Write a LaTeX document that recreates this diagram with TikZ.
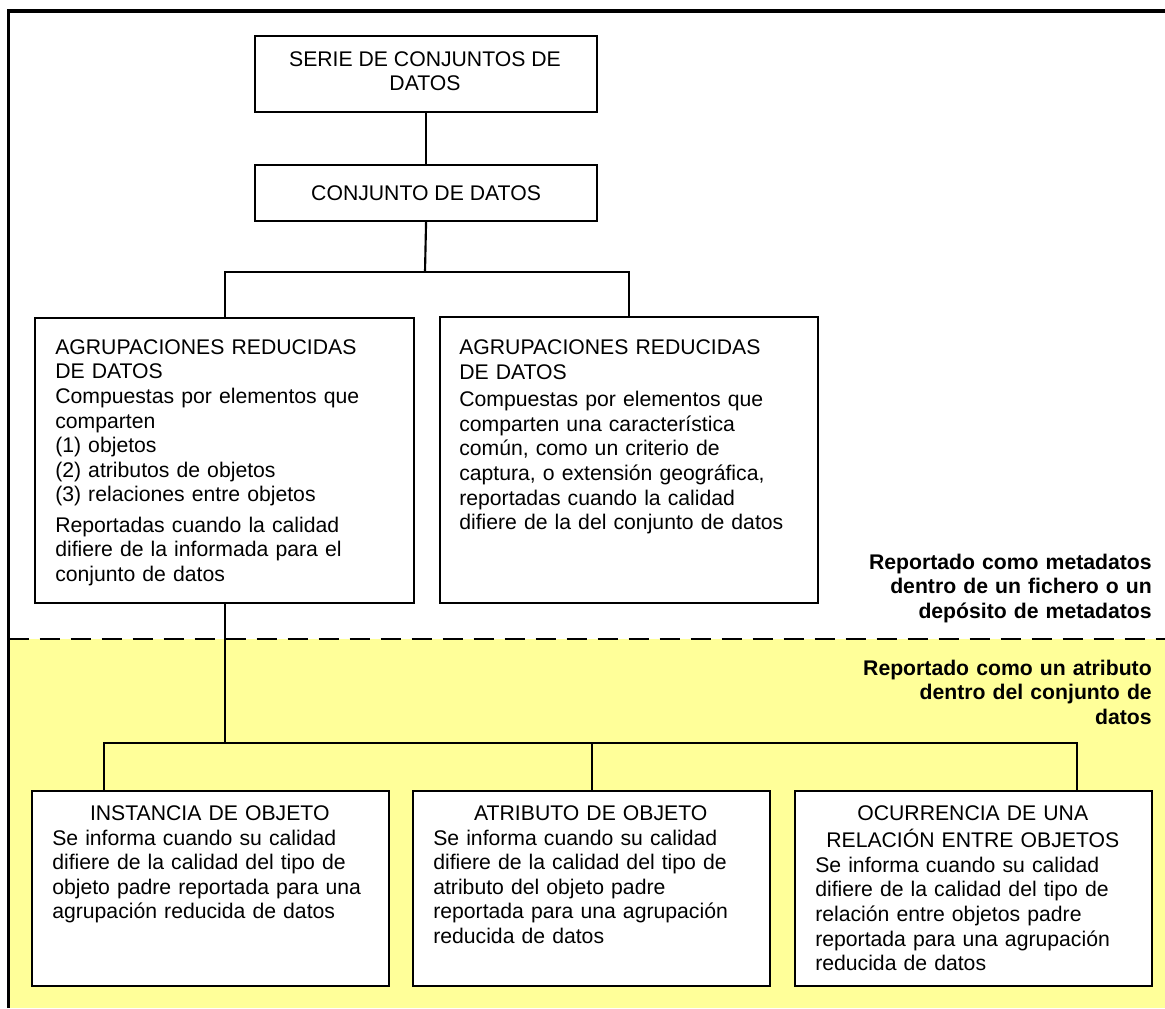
\documentclass[tikz,border=0pt]{standalone}
\usepackage{fontspec}
\setmainfont{Liberation Sans}
\usetikzlibrary{calc}
\definecolor{bgyellow}{RGB}{255,255,153}
\newcommand{\PX}{0.75pt}
\newcommand{\bodyfont}{\fontsize{15.9pt}{18.4pt}\selectfont}
\setlength{\parindent}{0pt}
\begin{document}
\begin{tikzpicture}[x=0.75pt, y=-0.75pt,
  box/.style={draw, line width=1.6pt, fill=white, inner sep=0pt, anchor=north west},
  conn/.style={line width=1.6pt},
  txt/.style={anchor=north west, inner sep=0pt, align=left, font=\bodyfont},
  note/.style={anchor=north east, inner sep=0pt, align=right, text width=300*\PX, font=\bodyfont\bfseries}]
\useasboundingbox (0,0) rectangle (1165,1008);
% background zones
\fill[bgyellow] (8.5,639) rectangle (1165,1008);
\draw[line width=2.2pt, dash pattern=on 15pt off 8.25pt] (8.5,639) -- (1165,639);
\draw[line width=2.4pt] (8.5,1008) -- (8.5,11) -- (1165,11);
% boxes
\node[box, minimum width=342*\PX, minimum height=76*\PX] (b1) at (254,35) {};
\node[box, minimum width=342*\PX, minimum height=56*\PX, font=\bodyfont] (b2) at (254,164) {CONJUNTO DE DATOS};
\node[box, minimum width=379*\PX, minimum height=285*\PX] (b3) at (34,317) {};
\node[box, minimum width=378*\PX, minimum height=286*\PX] (b4) at (439,316) {};
\node[box, minimum width=357*\PX, minimum height=195*\PX] (b5) at (31,790) {};
\node[box, minimum width=357*\PX, minimum height=195*\PX] (b6) at (412,790) {};
\node[box, minimum width=357*\PX, minimum height=195*\PX] (b7) at (794,790) {};
% box texts
\node[anchor=north, inner sep=0pt, align=center, font=\bodyfont] (t1) at (425,49) {\strut SERIE DE CONJUNTOS DE\\DATOS};
\node[txt, text width=350*\PX] (t3) at (55,337) {\strut AGRUPACIONES REDUCIDAS\\
DE DATOS\\
Compuestas por elementos que\\
comparten\\
(1) objetos\\
(2) atributos de objetos\\
(3) relaciones entre objetos\\[4.5pt]
Reportadas cuando la calidad\\
difiere de la informada para el\\
conjunto de datos};
\node[txt, text width=350*\PX] (t4) at (459,337.4) {\strut AGRUPACIONES REDUCIDAS\\
DE DATOS\\[2.25pt]
Compuestas por elementos que\\
comparten una característica\\
común, como un criterio de\\
captura, o extensión geográfica,\\
reportadas cuando la calidad\\
difiere de la del conjunto de datos};
\node[txt, text width=315*\PX] (t5) at (52,803.4) {{\centering\strut INSTANCIA DE OBJETO\par}
Se informa cuando su calidad\\
difiere de la calidad del tipo de\\
objeto padre reportada para una\\
agrupación reducida de datos};
\node[txt, text width=315*\PX] (t6) at (433,803.4) {{\centering\strut ATRIBUTO DE OBJETO\par}
Se informa cuando su calidad\\
difiere de la calidad del tipo de\\
atributo del objeto padre\\
reportada para una agrupación\\
reducida de datos};
\node[txt, text width=315*\PX] (t7) at (815,803.4) {{\centering\strut OCURRENCIA DE UNA\\RELACIÓN ENTRE OBJETOS\par}
Se informa cuando su calidad\\
difiere de la calidad del tipo de\\
relación entre objetos padre\\
reportada para una agrupación\\
reducida de datos};
% zone notes
\node[note] (m1) at (1152,551.8) {\strut Reportado como metadatos\\dentro de un fichero o un\\depósito de metadatos};
\node[note] (m2) at (1152,657.8) {\strut Reportado como un atributo\\dentro del conjunto de\\datos};
% connectors
\coordinate (j1) at (425,272);
\coordinate (lvl2) at (0,743);
\coordinate (j2) at (b3.south |- lvl2);
\draw[conn] (b1.south) -- (b2.north);
\draw[conn] (b2.south) -- (j1);
\draw[conn] (b3.north) |- (j1) -| (b4.north);
\draw[conn] (b3.south) -- (j2);
\draw[conn] ($(b5.north west)+(73,0)$) |- (j2) -| ($(b7.north west)+(283,0)$);
\draw[conn] (b6.north) -- (b6.north |- j2);
\end{tikzpicture}
\end{document}
